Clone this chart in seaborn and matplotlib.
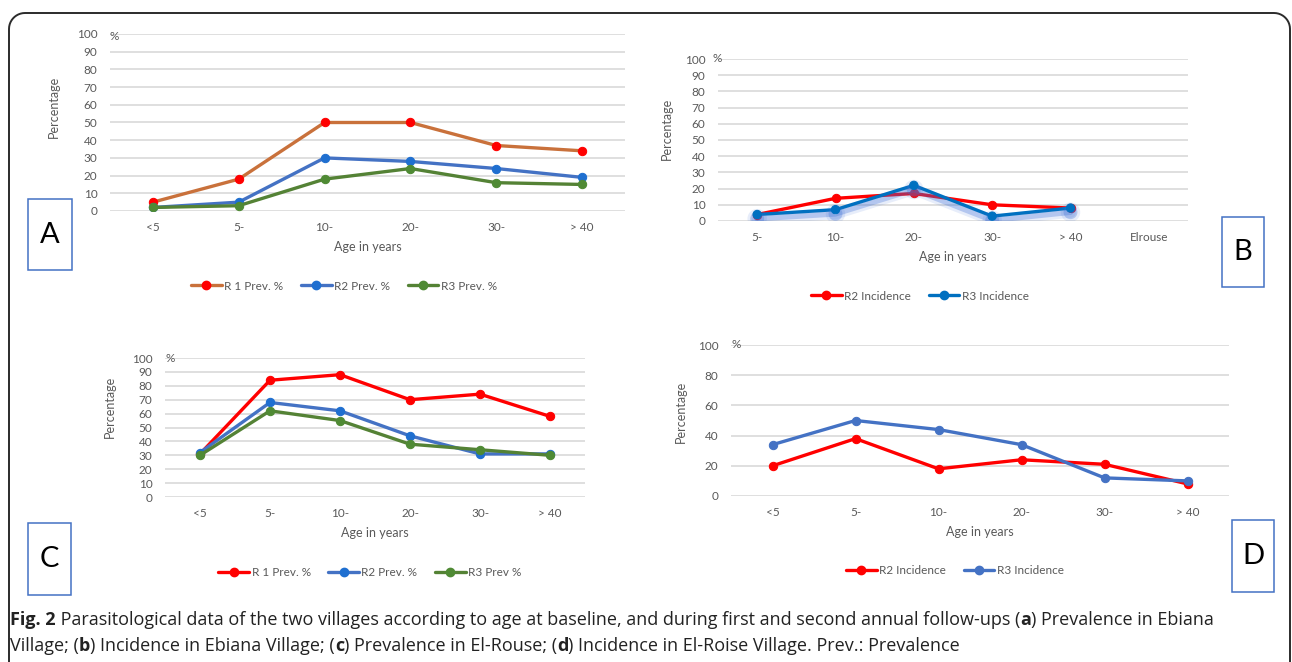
import numpy as np
import pandas as pd
import matplotlib
matplotlib.use("Agg")
import matplotlib.pyplot as plt
import matplotlib.patheffects as pe
from matplotlib.lines import Line2D
from matplotlib.patches import Rectangle, PathPatch
from matplotlib.path import Path
from matplotlib.transforms import IdentityTransform
import seaborn as sns

# ---- data ----
ages = ["<5", "5-", "10-", "20-", "30-", "> 40"]
ages_b = ["5-", "10-", "20-", "30-", "> 40", "Elrouse"]

a_r1 = [5, 18, 50, 50, 37, 34]
a_r2 = [2, 5, 30, 28, 24, 19]
a_r3 = [2, 3, 18, 24, 16, 15]

b_r2 = [4, 14, 17, 10, 8]
b_r3 = [4, 7, 22, 3, 8]

c_r1 = [31, 84, 88, 70, 74, 58]
c_r2 = [32, 68, 62, 44, 31, 31]
c_r3 = [30, 62, 55, 38, 34, 30]

d_r2 = [20, 38, 18, 24, 21, 8]
d_r3 = [34, 50, 44, 34, 12, 10]

W, H = 1292, 662
sns.set_style("white")
plt.rcParams["font.family"] = ["Lato", "DejaVu Sans"]

GRID = "#d9d9d9"
TXT = "#595959"
FS_TICK = 8.5
FS_LAB = 9

fig = plt.figure(figsize=(W / 100, H / 100), dpi=100)


def px_axes(left, right, top, bottom):
    # pixel box (top-left origin) -> figure fraction
    return fig.add_axes([left / W, 1 - bottom / H, (right - left) / W, (bottom - top) / H])


def style_axes(ax, cats, ystep, pct_xy, ylab_xy, xlab_pad):
    ax.set_ylim(0, 100)
    ax.set_xlim(-0.5, len(cats) - 0.5)
    ax.set_yticks(np.arange(0, 101, ystep))
    ax.set_xticks(range(len(cats)))
    ax.set_xticklabels(cats)
    ax.grid(axis="y", color=GRID, lw=1.2)
    ax.grid(axis="x", visible=False)
    for s in ax.spines.values():
        s.set_visible(False)
    ax.tick_params(axis="both", length=0, labelsize=FS_TICK, labelcolor=TXT)
    ax.tick_params(axis="y", pad=9)
    ax.tick_params(axis="x", pad=8)
    ax.set_xlabel("Age in years", fontsize=FS_LAB, color=TXT, labelpad=xlab_pad)
    ax.set_ylabel("Percentage", fontsize=FS_LAB, color=TXT)
    ax.yaxis.set_label_coords(*ylab_xy)
    ax.text(pct_xy[0], pct_xy[1], "%", transform=ax.transAxes, fontsize=FS_TICK,
            color=TXT, ha="left", va="center")
    ax.set_axisbelow(True)


def draw(ax, cats, vals, line_c, mark_c, label, shadow=False):
    df = pd.DataFrame({"age": cats[:len(vals)], "val": vals})
    df["pos"] = [cats.index(a) for a in df["age"]]
    sns.lineplot(data=df, x="pos", y="val", ax=ax, color=line_c, lw=2.4, sort=False,
                 marker="o", markersize=6, markerfacecolor=mark_c,
                 markeredgecolor=mark_c, legend=False)
    if shadow:
        ln = ax.lines[-1]
        ln.set_path_effects([
            pe.SimpleLineShadow(offset=(0, -3), shadow_color="#3d6fd6", alpha=0.12, linewidth=8),
            pe.SimpleLineShadow(offset=(0, -3), shadow_color="#3d6fd6", alpha=0.3, linewidth=4),
            pe.Normal()])
    return Line2D([], [], color=line_c, lw=2.4, marker="o", markersize=6,
                  markerfacecolor=mark_c, markeredgecolor=mark_c, label=label)


def legend(handles, cx, cy):
    fig.legend(handles=handles, loc="center", bbox_to_anchor=(cx / W, 1 - cy / H),
               ncol=len(handles), frameon=False, fontsize=FS_TICK, handlelength=2.6,
               handletextpad=0.2, columnspacing=1.5, labelcolor=TXT)


def letter_box(ch, x0, x1, y0, y1):
    fig.patches.append(Rectangle((x0 / W, 1 - y1 / H), (x1 - x0) / W, (y1 - y0) / H,
                                 transform=fig.transFigure, fill=False,
                                 edgecolor="#4472c4", lw=1.1))
    fig.text((x0 + x1) / 2 / W, 1 - (y0 + y1) / 2 / H, ch, fontsize=21,
             ha="center", va="center", color="black")


# ---- panel A ----
axA = px_axes(110, 625, 34, 211)
style_axes(axA, ages, 10, (0.0, 0.985), (-0.097, 0.59), 6)
hA = [draw(axA, ages, a_r1, "#c9713b", "#ff0000", "R 1 Prev. %"),
      draw(axA, ages, a_r2, "#4472c4", "#1f6fd0", "R2 Prev. %"),
      draw(axA, ages, a_r3, "#548235", "#4f8a34", "R3 Prev. %")]
legend(hA, 344, 286)
letter_box("A", 28, 72, 199, 270)

# ---- panel B ----
axB = px_axes(718, 1188, 59, 221)
style_axes(axB, ages_b, 10, (-0.012, 1.0), (-0.096, 0.57), 6)
hB = [draw(axB, ages_b, b_r2, "#ff0000", "#ff0000", "R2 Incidence"),
      draw(axB, ages_b, b_r3, "#0070c0", "#0070c0", "R3 Incidence", shadow=True)]
legend(hB, 920, 296)
letter_box("B", 1222, 1264, 217, 287)

# ---- panel C ----
axC = px_axes(165, 585, 358, 497)
style_axes(axC, ages, 10, (0.0, 1.0), (-0.117, 0.65), 6)
hC = [draw(axC, ages, c_r1, "#ff0000", "#ff0000", "R 1 Prev. %"),
      draw(axC, ages, c_r2, "#4472c4", "#1f6fd0", "R2 Prev. %"),
      draw(axC, ages, c_r3, "#548235", "#4f8a34", "R3 Prev %")]
legend(hC, 370, 573)
letter_box("C", 28, 71, 523, 595)

# ---- panel D ----
axD = px_axes(731, 1229, 345, 496)
style_axes(axD, ages, 20, (0.0, 1.0), (-0.088, 0.56), 6)
hD = [draw(axD, ages, d_r2, "#ff0000", "#ff0000", "R2 Incidence"),
      draw(axD, ages, d_r3, "#4472c4", "#4472c4", "R3 Incidence")]
legend(hD, 955, 571)
letter_box("D", 1232, 1274, 520, 592)

# ---- outer rounded frame (open at the bottom) ----
r = 16
L, R, T = 9, 1290, H - 13
ang = np.linspace(np.pi, np.pi / 2, 12)
left_arc = np.c_[L + r + r * np.cos(ang), T - r + r * np.sin(ang)]
ang2 = np.linspace(np.pi / 2, 0, 12)
right_arc = np.c_[R - r + r * np.cos(ang2), T - r + r * np.sin(ang2)]
pts = np.vstack([[L, -5], left_arc, right_arc, [R, -5]])
fig.patches.append(PathPatch(Path(pts), transform=IdentityTransform(), fill=False,
                             edgecolor="#2b2b2b", lw=1.4))

# ---- caption with bold pieces ----
fig.canvas.draw()
renderer = fig.canvas.get_renderer()
CAP = ["Open Sans", "DejaVu Sans"]


def rich_line(pieces, x, y):
    for txt, bold in pieces:
        t = fig.text(x / W, 1 - y / H, txt, fontsize=13, family=CAP,
                     fontweight="bold" if bold else "normal", color="#222222",
                     ha="left", va="center")
        x = t.get_window_extent(renderer).x1


rich_line([("Fig. 2", True),
           (" Parasitological data of the two villages according to age at baseline, and during first and second annual follow-ups (", False),
           ("a", True), (") Prevalence in Ebiana", False)], 10, 620)
rich_line([("Village; (", False), ("b", True), (") Incidence in Ebiana Village; (", False),
           ("c", True), (") Prevalence in El-Rouse; (", False), ("d", True),
           (") Incidence in El-Roise Village. Prev.: Prevalence", False)], 10, 646)

fig.savefig("out.png", dpi=100)
